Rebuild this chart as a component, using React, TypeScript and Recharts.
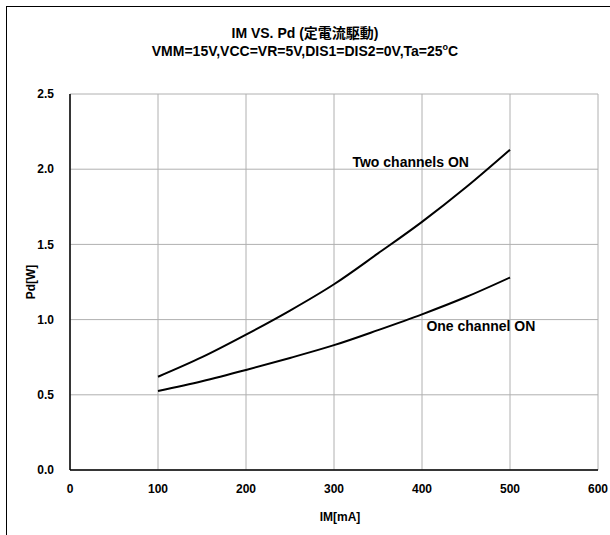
import React from 'react';
import {
  CartesianGrid,
  Line,
  LineChart,
  ReferenceDot,
  XAxis,
  YAxis,
} from 'recharts';

const currents = [100, 150, 200, 250, 300, 350, 400, 450, 500];
const twoChannels = [0.62, 0.75, 0.9, 1.06, 1.235, 1.44, 1.65, 1.88, 2.13];
const oneChannel = [0.525, 0.59, 0.665, 0.745, 0.83, 0.93, 1.035, 1.15, 1.28];

const xTicks = [0, 100, 200, 300, 400, 500, 600];
const yTicks = [0, 0.5, 1.0, 1.5, 2.0, 2.5];

const titleLines = ['IM VS. Pd (定電流駆動)', 'VMM=15V,VCC=VR=5V,DIS1=DIS2=0V,Ta=25°C'];

// annotation anchors in data units
const notes = [
  { x: 321, y: 2.05, text: 'Two channels ON' },
  { x: 405, y: 0.957, text: 'One channel ON' },
];

const font = '"Liberation Sans", Arial, "Noto Sans CJK JP", sans-serif';

const data = currents.map((im, i) => ({
  im,
  two: twoChannels[i],
  one: oneChannel[i],
}));

const NoteLabel = (text: string) => (props: any) => {
  const { viewBox } = props;
  return (
    <text
      x={viewBox.x}
      y={viewBox.y}
      dominantBaseline="central"
      fontFamily={font}
      fontWeight="bold"
      fontSize={14}
      fill="#000"
    >
      {text}
    </text>
  );
};

const App: React.FC = () => {
  return (
    <div
      style={{
        position: 'fixed',
        left: 0,
        top: 0,
        width: 610,
        height: 535,
        overflow: 'hidden',
        background: '#fff',
        fontFamily: font,
      }}
    >
      <div
        style={{
          position: 'absolute',
          left: 6,
          top: 6,
          width: 700,
          height: 600,
          border: '1px solid #000',
        }}
      />
      {titleLines.map((t, i) => (
        <div
          key={i}
          style={{
            position: 'absolute',
            left: 0,
            width: 610,
            top: 24 + i * 18,
            lineHeight: '18px',
            textAlign: 'center',
            fontWeight: 'bold',
            fontSize: 14,
          }}
        >
          {i === 1 ? (
            <>
              VMM=15V,VCC=VR=5V,DIS1=DIS2=0V,Ta=25<sup style={{ fontSize: 9, lineHeight: 0 }}>o</sup>C
            </>
          ) : (
            t
          )}
        </div>
      ))}
      <div style={{ position: 'absolute', left: 0, top: 0 }}>
        <LineChart
          width={610}
          height={535}
          data={data}
          margin={{ top: 94, right: 12, bottom: 35, left: 10 }}
        >
          <CartesianGrid stroke="#b0b0b0" strokeWidth={1} />
          <XAxis
            dataKey="im"
            type="number"
            domain={[0, 600]}
            ticks={xTicks}
            height={30}
            tickLine={false}
            tickMargin={8}
            axisLine={{ stroke: '#000', strokeWidth: 1.5 }}
            tick={{ fill: '#000', fontSize: 12, fontWeight: 'bold', fontFamily: font }}
            label={{
              content: (props: any) => {
                const vb = props.viewBox;
                return (
                  <text
                    x={vb.x + vb.width / 2 + 6}
                    y={vb.y + 47}
                    textAnchor="middle"
                    dominantBaseline="central"
                    fontFamily={font}
                    fontWeight="bold"
                    fontSize={12}
                    fill="#000"
                  >
                    IM[mA]
                  </text>
                );
              },
            }}
          />
          <YAxis
            type="number"
            domain={[0, 2.5]}
            ticks={yTicks}
            width={60}
            tickLine={false}
            tickMargin={10}
            tickFormatter={(v: number) => v.toFixed(1)}
            axisLine={{ stroke: '#000', strokeWidth: 1.5 }}
            tick={{ fill: '#000', fontSize: 12, fontWeight: 'bold', fontFamily: font }}
            label={{
              content: (props: any) => {
                const vb = props.viewBox;
                const cx = vb.x + 21;
                const cy = vb.y + vb.height / 2;
                return (
                  <text
                    x={cx}
                    y={cy}
                    textAnchor="middle"
                    dominantBaseline="central"
                    transform={`rotate(-90, ${cx}, ${cy})`}
                    fontFamily={font}
                    fontWeight="bold"
                    fontSize={12}
                    fill="#000"
                  >
                    Pd[W]
                  </text>
                );
              },
            }}
          />
          <Line
            type="monotone"
            dataKey="two"
            stroke="#000"
            strokeWidth={2}
            dot={false}
            isAnimationActive={false}
          />
          <Line
            type="monotone"
            dataKey="one"
            stroke="#000"
            strokeWidth={2}
            dot={false}
            isAnimationActive={false}
          />
          {notes.map((n) => (
            <ReferenceDot
              key={n.text}
              x={n.x}
              y={n.y}
              r={0}
              fill="none"
              stroke="none"
              label={{ content: NoteLabel(n.text) }}
            />
          ))}
        </LineChart>
      </div>
    </div>
  );
};

export default App;
